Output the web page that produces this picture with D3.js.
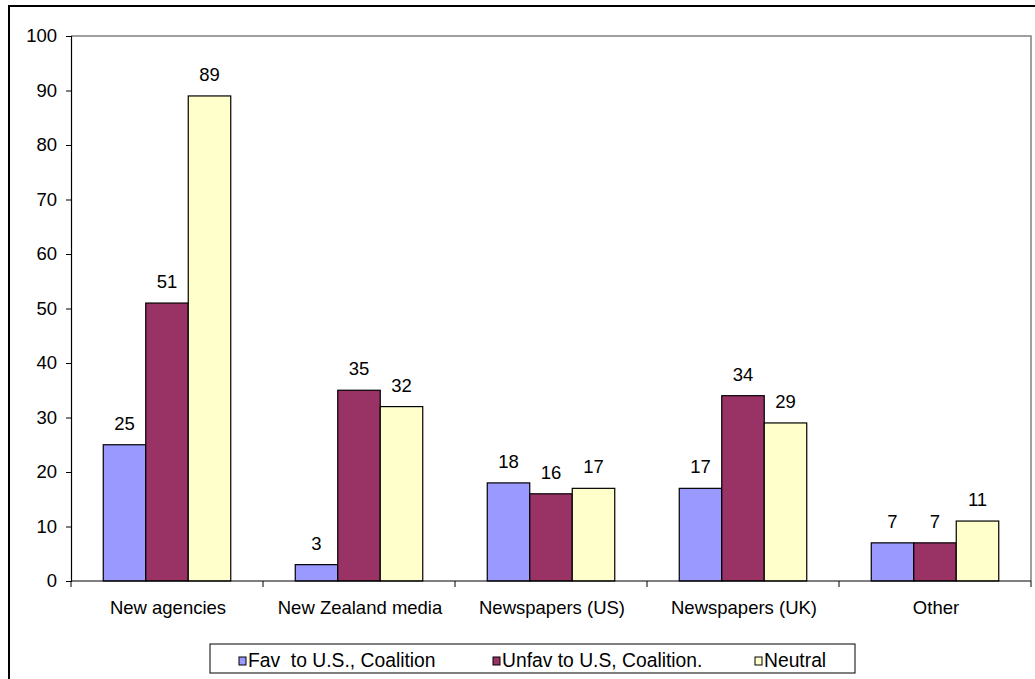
<!DOCTYPE html>
<html>
<head>
<meta charset="utf-8">
<script src="https://cdn.jsdelivr.net/npm/d3@7"></script>
<style>
  html, body { margin: 0; padding: 0; background: #fff; }
  svg { display: block; font-family: "Liberation Sans", Arial, sans-serif; }
</style>
</head>
<body>
<svg id="chart" width="1035" height="679"></svg>
<script>
// Media sources and coverage tone counts
const categories = ["New agencies", "New Zealand media", "Newspapers (US)", "Newspapers (UK)", "Other"];
const seriesNames = ["Fav  to U.S., Coalition", "Unfav to U.S, Coalition.", "Neutral"];
const favValues = [25, 3, 18, 17, 7];
const unfavValues = [51, 35, 16, 34, 7];
const neutralValues = [89, 32, 17, 29, 11];
const yTicks = [0, 10, 20, 30, 40, 50, 60, 70, 80, 90, 100];
const colors = ["#9999FF", "#993366", "#FFFFCC"];

const seriesValues = [favValues, unfavValues, neutralValues];

const svg = d3.select("#chart");
const plot = { left: 71, top: 36, right: 1031, bottom: 581 };
const fontSize = 18.5;
const legendFontSize = 19.3;

// outer frame
svg.append("path")
  .attr("d", `M9,679 V6 H1035`)
  .attr("fill", "none").attr("stroke", "#000").attr("stroke-width", 2);

const x0 = d3.scaleBand().domain(categories).range([plot.left, plot.right]).paddingInner(0).paddingOuter(0);
const x1 = d3.scaleBand().domain(d3.range(3)).range([0, x0.bandwidth()]).paddingInner(0).paddingOuter(0.759);
const y = d3.scaleLinear().domain([0, 100]).range([plot.bottom, plot.top]);

// plot area border (top and right)
svg.append("path")
  .attr("d", `M${plot.left},${plot.top} H${plot.right} V${plot.bottom}`)
  .attr("fill", "none").attr("stroke", "#808080").attr("stroke-width", 1.5);

// bars and value labels
const groups = svg.append("g").selectAll("g")
  .data(categories).join("g")
  .attr("transform", d => `translate(${x0(d)},0)`);

groups.each(function(cat, ci) {
  const g = d3.select(this);
  seriesValues.forEach((vals, si) => {
    const v = vals[ci];
    g.append("rect")
      .attr("x", x1(si))
      .attr("y", y(v))
      .attr("width", x1.bandwidth())
      .attr("height", y(0) - y(v))
      .attr("fill", colors[si])
      .attr("stroke", "#000").attr("stroke-width", 1.2);
    g.append("text")
      .attr("x", x1(si) + x1.bandwidth() / 2)
      .attr("y", y(v) - 15)
      .attr("text-anchor", "middle")
      .attr("font-size", fontSize)
      .attr("fill", "#000")
      .text(v);
  });
});

// y axis
const yAxis = d3.axisLeft(y).tickValues(yTicks).tickSize(5).tickPadding(9).tickFormat(d3.format("d"));
const yg = svg.append("g").attr("transform", `translate(${plot.left},0)`).call(yAxis);
yg.select(".domain").attr("stroke", "#000").attr("stroke-width", 1.2);
yg.selectAll(".tick line").attr("stroke", "#000");
yg.selectAll(".tick text").attr("font-size", fontSize).attr("font-family", "Liberation Sans, Arial, sans-serif").attr("fill", "#000");

// x axis with ticks at category boundaries
const xg = svg.append("g").attr("transform", `translate(0,${plot.bottom})`);
xg.append("line").attr("x1", plot.left).attr("x2", plot.right).attr("stroke", "#000").attr("stroke-width", 1.2);
const boundaries = categories.map(c => x0(c)).concat([plot.right]);
xg.selectAll("line.tick").data(boundaries).join("line")
  .attr("class", "tick")
  .attr("x1", d => d).attr("x2", d => d)
  .attr("y1", 0).attr("y2", 6)
  .attr("stroke", "#000");
xg.selectAll("text").data(categories).join("text")
  .attr("x", d => x0(d) + x0.bandwidth() / 2 + 1)
  .attr("y", 33)
  .attr("text-anchor", "middle")
  .attr("font-size", fontSize)
  .attr("fill", "#000")
  .text(d => d);

// legend
const legend = svg.append("g");
legend.append("rect")
  .attr("x", 210).attr("y", 644).attr("width", 645).attr("height", 29)
  .attr("fill", "#fff").attr("stroke", "#000").attr("stroke-width", 1);
const legendX = [239, 493, 755];
seriesNames.forEach((name, i) => {
  legend.append("rect")
    .attr("x", legendX[i]).attr("y", 657).attr("width", 7).attr("height", 8)
    .attr("fill", colors[i]).attr("stroke", "#000").attr("stroke-width", 1);
  legend.append("text")
    .attr("x", legendX[i] + 9).attr("y", 667)
    .attr("font-size", legendFontSize)
    .attr("fill", "#000")
    .attr("xml:space", "preserve")
    .style("white-space", "pre")
    .text(name);
});
</script>
</body>
</html>
